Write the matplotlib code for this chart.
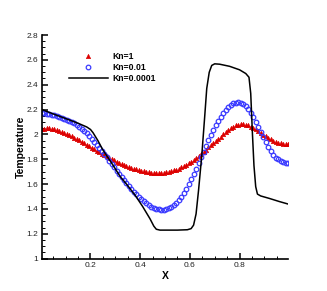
import numpy as np
import matplotlib
matplotlib.use("Agg")
import matplotlib.pyplot as plt
from matplotlib.ticker import MultipleLocator, FuncFormatter

plt.rcParams['font.family'] = ['Liberation Sans', 'DejaVu Sans']

# cell-centred x positions (100 cells on [0,1])
x_cells = [0.005 + 0.01 * i for i in range(100)]

kn1 = [2.040, 2.046, 2.049, 2.049, 2.046, 2.041, 2.035, 2.028, 2.020, 2.012,
       2.003, 1.994, 1.984, 1.974, 1.963, 1.952, 1.940, 1.928, 1.916, 1.904,
       1.892, 1.880, 1.868, 1.856, 1.845, 1.834, 1.823, 1.812, 1.801, 1.791,
       1.781, 1.772, 1.763, 1.754, 1.746, 1.738, 1.731, 1.724, 1.718, 1.712,
       1.707, 1.702, 1.698, 1.695, 1.692, 1.690, 1.689, 1.689, 1.690, 1.692,
       1.695, 1.699, 1.704, 1.710, 1.717, 1.725, 1.734, 1.744, 1.755, 1.767,
       1.780, 1.794, 1.809, 1.825, 1.842, 1.859, 1.877, 1.895, 1.913, 1.931,
       1.949, 1.966, 1.983, 2.001, 2.020, 2.036, 2.050, 2.062, 2.072, 2.079,
       2.083, 2.083, 2.079, 2.072, 2.063, 2.052, 2.040, 2.027, 2.013, 1.999,
       1.985, 1.972, 1.960, 1.950, 1.941, 1.933, 1.927, 1.923, 1.921, 1.920]

kn001 = [2.170, 2.170, 2.168, 2.165, 2.160, 2.155, 2.148, 2.140, 2.132, 2.124,
         2.116, 2.108, 2.098, 2.088, 2.076, 2.062, 2.046, 2.028, 2.008, 1.986,
         1.962, 1.938, 1.914, 1.890, 1.865, 1.840, 1.815, 1.790, 1.762, 1.735,
         1.708, 1.682, 1.656, 1.630, 1.606, 1.582, 1.560, 1.538, 1.517, 1.497,
         1.478, 1.461, 1.445, 1.431, 1.419, 1.409, 1.401, 1.396, 1.394, 1.395,
         1.399, 1.406, 1.416, 1.430, 1.448, 1.470, 1.496, 1.526, 1.560, 1.598,
         1.638, 1.680, 1.724, 1.770, 1.816, 1.862, 1.908, 1.952, 1.994, 2.034,
         2.072, 2.108, 2.140, 2.170, 2.196, 2.218, 2.236, 2.249, 2.256, 2.258,
         2.254, 2.243, 2.226, 2.202, 2.172, 2.138, 2.100, 2.060, 2.018, 1.976,
         1.936, 1.898, 1.864, 1.834, 1.812, 1.800, 1.787, 1.777, 1.770, 1.767]

x_kn00001 = [0.005, 0.05, 0.10, 0.15, 0.185, 0.20, 0.21, 0.23, 0.25, 0.29,
             0.32, 0.345, 0.38, 0.41, 0.44, 0.455, 0.465, 0.48, 0.55, 0.59,
             0.605, 0.615, 0.625, 0.635, 0.648, 0.66, 0.668, 0.678, 0.688, 0.70,
             0.72, 0.76, 0.80, 0.825, 0.838, 0.845, 0.852, 0.858, 0.865, 0.872,
             0.885, 0.92, 0.96, 0.995]
kn00001 = [2.200, 2.165, 2.128, 2.090, 2.060, 2.040, 2.015, 1.950, 1.875, 1.755,
           1.660, 1.600, 1.510, 1.420, 1.320, 1.262, 1.237, 1.230, 1.230, 1.233,
           1.242, 1.270, 1.360, 1.550, 1.830, 2.150, 2.370, 2.500, 2.555, 2.568,
           2.565, 2.548, 2.520, 2.490, 2.460, 2.330, 2.000, 1.750, 1.580, 1.520,
           1.505, 1.485, 1.460, 1.440]

labels = ['Kn=1', 'Kn=0.01', 'Kn=0.0001']

fig = plt.figure(figsize=(3.27, 2.91), dpi=100)
ax = fig.add_axes([42/327, 1-258.7/291, 246/327, (258.7-35)/291])

ax.plot(x_cells, kn1, linestyle='none', marker='^', markersize=3.2,
        color='#dd0000', markeredgewidth=0.4, label=labels[0])
ax.plot(x_cells, kn001, linestyle='none', marker='o', markersize=3.3,
        markerfacecolor='none', markeredgecolor='#3a3aff', markeredgewidth=0.9,
        label=labels[1])
ax.plot(x_kn00001, kn00001, color='black', linewidth=1.1, label=labels[2])

ax.set_xlim(0.005, 0.995)
ax.set_ylim(1.0, 2.8)
ax.xaxis.set_major_locator(MultipleLocator(0.2))
ax.xaxis.set_minor_locator(MultipleLocator(0.05))
ax.yaxis.set_major_locator(MultipleLocator(0.2))
ax.yaxis.set_minor_locator(MultipleLocator(0.05))
ax.xaxis.set_major_formatter(FuncFormatter(lambda v, p: f'{v:g}'))
ax.yaxis.set_major_formatter(FuncFormatter(lambda v, p: f'{round(v, 2):g}'))

for s in ['top', 'right']:
    ax.spines[s].set_visible(False)
for s in ['left', 'bottom']:
    ax.spines[s].set_linewidth(1.2)

ax.tick_params(which='major', direction='in', length=4, width=1.1,
               labelsize=6, pad=2.5, colors='black')
ax.tick_params(which='minor', direction='in', length=2, width=0.7)
for lab in ax.get_xticklabels() + ax.get_yticklabels():
    lab.set_color('#222222')

ax.set_xlabel('X', fontsize=7.5, fontweight='bold', labelpad=1)
ax.set_ylabel('Temperature', fontsize=7.5, fontweight='bold', labelpad=1)

leg = ax.legend(loc='upper left', bbox_to_anchor=(69/327, 1-52/291),
                bbox_transform=fig.transFigure, frameon=False,
                borderpad=0, borderaxespad=0, handlelength=4.5,
                handletextpad=0.55, labelspacing=0.25,
                prop={'size': 6.2, 'weight': 'bold'})

fig.savefig('out.png', dpi=100)
